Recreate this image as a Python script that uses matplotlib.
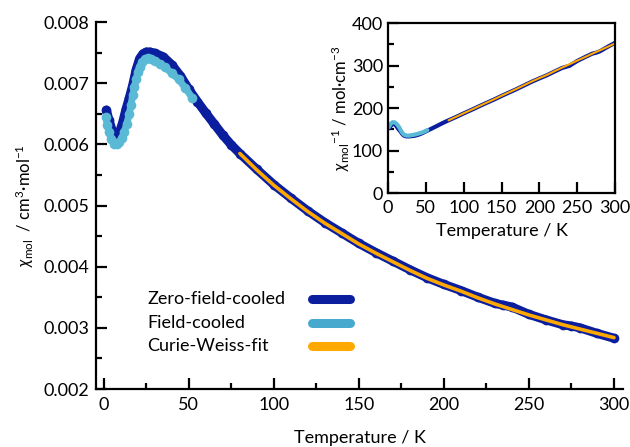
# Magnetic susceptibility vs temperature, with inverse susceptibility inset
import matplotlib
matplotlib.use("Agg")
import matplotlib.pyplot as plt
import numpy as np
from matplotlib.lines import Line2D
from matplotlib.ticker import MultipleLocator, FormatStrFormatter

plt.rcParams["font.family"] = ["Lato", "DejaVu Sans"]
plt.rcParams["mathtext.fontset"] = "custom"
plt.rcParams["mathtext.rm"] = "Lato"
plt.rcParams["mathtext.it"] = "Lato:italic"
plt.rcParams["mathtext.fallback"] = "stixsans"

# Zero-field-cooled data
zfc_t = [1.5, 3, 5, 7, 9, 11, 13, 15, 17, 19, 21, 23, 25, 27, 30, 35, 40, 45,
         50, 55, 60, 65, 70, 75, 80, 90, 100, 110, 120, 130, 140, 150, 160,
         170, 180, 190, 200, 210, 220, 230, 235, 240, 250, 260, 270, 275, 280,
         290, 300]
zfc_chi = [0.00656, 0.00640, 0.00622, 0.00612, 0.00618, 0.00635, 0.00657,
           0.00676, 0.00697, 0.00722, 0.00740, 0.00748, 0.00751, 0.00751,
           0.00749, 0.00743, 0.00730, 0.00712, 0.00690, 0.00670, 0.00651,
           0.00633, 0.00615, 0.00599, 0.00585, 0.00559, 0.00534, 0.00512,
           0.00491, 0.00472, 0.00455, 0.00438, 0.00423, 0.00409, 0.00395,
           0.00382, 0.00371, 0.00361, 0.00350, 0.00340, 0.00337, 0.00334,
           0.00322, 0.00313, 0.00305, 0.00303, 0.00300, 0.00291, 0.00283]

# Field-cooled data
fc_t = [1.2, 2, 3, 4.5, 6, 7.5, 9, 10.5, 12, 13.5, 15, 16, 17, 18, 19, 20, 21,
        22.5, 24, 26, 28, 30, 33, 36, 40, 44, 48, 52]
fc_chi = [0.00645, 0.00632, 0.00620, 0.00608, 0.00601, 0.00600, 0.00603,
          0.00610, 0.00620, 0.00634, 0.00650, 0.00665, 0.00680, 0.00694,
          0.00707, 0.00718, 0.00727, 0.00734, 0.00739, 0.00741, 0.00740,
          0.00737, 0.00732, 0.00726, 0.00716, 0.00706, 0.00692, 0.00676]

# Curie-Weiss fit curve
cw_t = [80, 90, 100, 110, 120, 130, 140, 150, 160, 170, 180, 190, 200, 210,
        220, 230, 240, 250, 260, 270, 280, 290, 300]
cw_chi = [0.00585, 0.00558, 0.00533, 0.00511, 0.00490, 0.00471, 0.00454,
          0.00437, 0.00422, 0.00408, 0.00394, 0.00381, 0.00370, 0.00360,
          0.00349, 0.00339, 0.00330, 0.00321, 0.00313, 0.00305, 0.00298,
          0.00291, 0.00284]

labels = ["Zero-field-cooled", "Field-cooled", "Curie-Weiss-fit"]

c_zfc = "#0a1e9e"
c_fc = "#5ab9d5"
c_cw = "#ffa800"
colors = [c_zfc, "#48a9cf", c_cw]

fig = plt.figure(figsize=(6.3, 4.47), dpi=100)
W, H = 630, 447
ax = fig.add_axes([96 / W, 1 - 389 / H, (623 - 96) / W, (389 - 22) / H])

ax.plot(zfc_t, zfc_chi, color=c_zfc, lw=6.5, solid_capstyle="round",
        solid_joinstyle="round", marker="o", ms=7, mec="none")
ax.plot(fc_t, fc_chi, color=c_fc, lw=5, solid_capstyle="round",
        marker="o", ms=7, mec="none")
ax.plot(cw_t, cw_chi, color=c_cw, lw=2.6, solid_capstyle="round")

ax.set_xlim(-4.6, 305.3)
ax.set_ylim(0.002, 0.008)
ax.spines["top"].set_visible(False)
ax.spines["right"].set_visible(False)
for s in ["left", "bottom"]:
    ax.spines[s].set_linewidth(1.6)
ax.xaxis.set_major_locator(MultipleLocator(50))
ax.xaxis.set_minor_locator(MultipleLocator(25))
ax.yaxis.set_major_locator(MultipleLocator(0.001))
ax.yaxis.set_minor_locator(MultipleLocator(0.0005))
ax.yaxis.set_major_formatter(FormatStrFormatter("%.3f"))
ax.tick_params(which="major", direction="in", width=1.6, length=8, labelsize=13)
ax.tick_params(which="minor", direction="in", width=1.6, length=4)
ax.tick_params(axis="x", pad=6)
ax.tick_params(axis="y", pad=5)
ax.set_xlabel("Temperature / K", fontsize=13, labelpad=12)
ax.set_ylabel(r"$\chi_{\mathrm{mol}}$  / cm$^{3}$·mol$^{-1}$", fontsize=12,
              labelpad=5)

# legend drawn by hand: text on the left, thick rounded bar on the right
for i, (lab, col) in enumerate(zip(labels, colors)):
    yy = 1 - (299 + 23.5 * i) / H
    fig.text(147 / W, yy, lab, fontsize=13, va="center", ha="left")
    fig.add_artist(Line2D([312 / W, 350 / W], [yy, yy], color=col, lw=6.5,
                          solid_capstyle="round"))

# Inset: inverse susceptibility
ins = fig.add_axes([388 / W, 1 - 193 / H, 227 / W, 170 / H])
ins.plot(zfc_t, 1 / np.array(zfc_chi), color=c_zfc, lw=3,
         solid_capstyle="round")
ins.plot(fc_t, 1 / np.array(fc_chi), color=c_fc, lw=3,
         solid_capstyle="round")
ins.plot(cw_t, 1 / np.array(cw_chi), color=c_cw, lw=1.5,
         solid_capstyle="round")
ins.set_xlim(0, 300)
ins.set_ylim(0, 400)
for s in ins.spines.values():
    s.set_linewidth(1.6)
ins.xaxis.set_major_locator(MultipleLocator(50))
ins.yaxis.set_major_locator(MultipleLocator(100))
ins.yaxis.set_minor_locator(MultipleLocator(50))
ins.tick_params(which="major", direction="in", width=1.6, length=8, labelsize=13)
ins.tick_params(which="minor", direction="in", width=1.6, length=4)
ins.tick_params(axis="x", pad=5)
ins.set_xlabel("Temperature / K", fontsize=13, labelpad=5)
ins.set_ylabel(r"$\chi_{\mathrm{mol}}$$^{-1}$ / mol·cm$^{-3}$", fontsize=12,
               labelpad=0)

fig.savefig("out.png", dpi=100)
